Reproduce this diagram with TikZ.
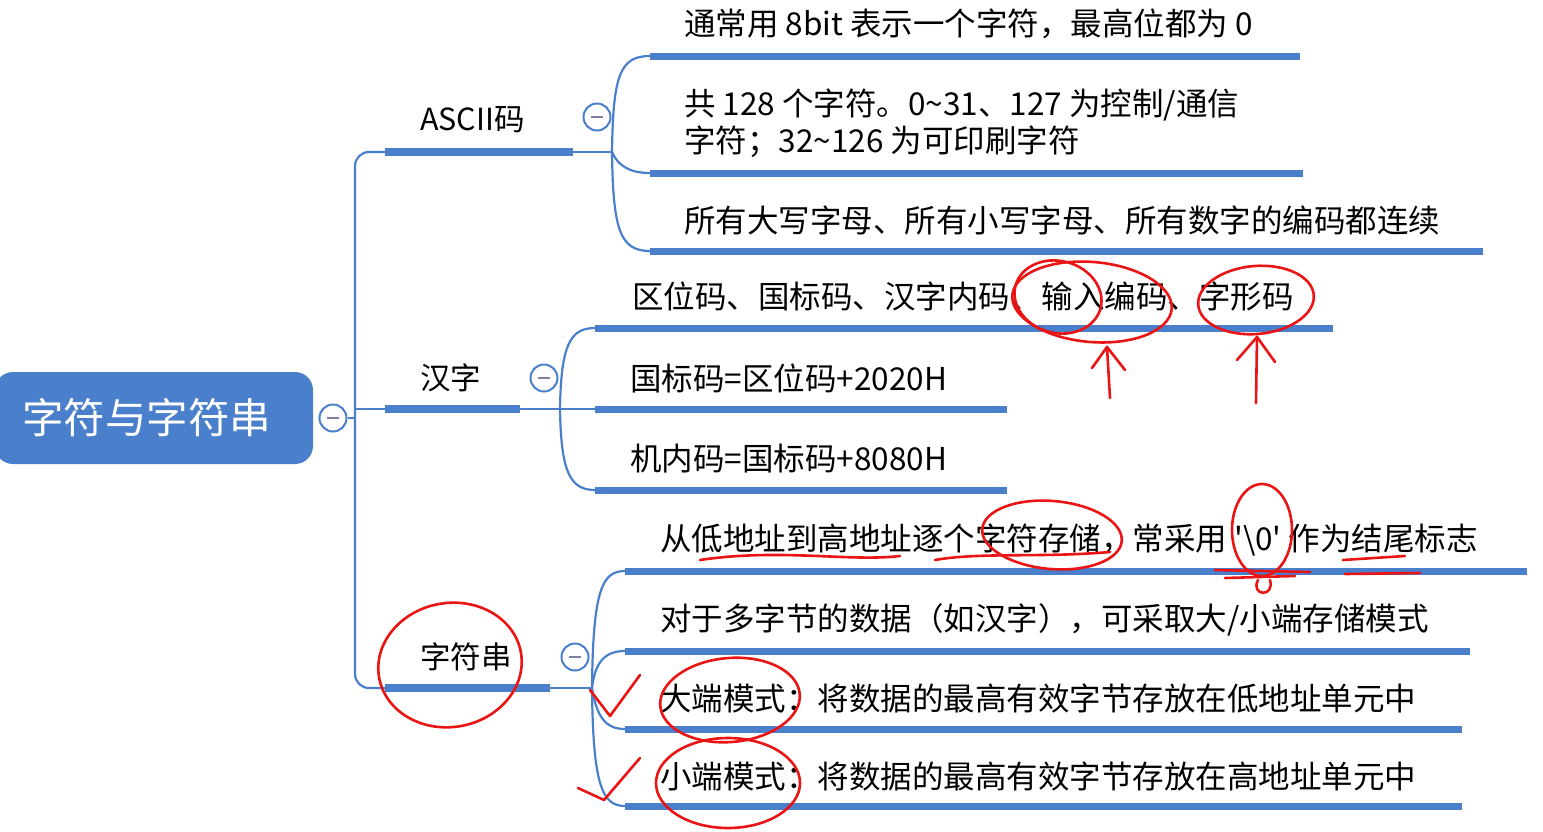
\documentclass[tikz,border=0pt]{standalone}
\usepackage{fontspec}
\newfontfamily\cjk{Noto Sans CJK SC}
\definecolor{mblue}{RGB}{74,127,203}
\definecolor{mgray}{RGB}{125,125,165}
\definecolor{hred}{RGB}{235,20,20}
\tikzset{
 bar/.style={draw=mblue,line width=7pt},
 mbar/.style={draw=mblue,line width=8pt},
 link/.style={draw=mblue,line width=2.2pt},
 txt/.style={anchor=west,inner sep=0pt,font=\cjk\fontsize{31.5}{39}\selectfont},
 lbl/.style={anchor=west,inner sep=0pt,font=\cjk\fontsize{30.5}{36}\selectfont},
 root/.style={fill=mblue,rounded corners=18pt,minimum width=318pt,minimum height=92pt,text=white,font=\cjk\fontsize{41.5}{46}\selectfont},
 fold/.style={circle,draw=mblue,fill=white,line width=2pt,minimum size=27pt,inner sep=0pt,
   path picture={\draw[mgray,line width=2.5pt] (path picture bounding box.center) ++(-6pt,0) -- ++(12pt,0);}},
 ink/.style={draw=hred,line width=2.6pt,line cap=round,line join=round},
}
\begin{document}
\begin{tikzpicture}[x=1pt,y=-1pt]
\useasboundingbox (0,0) rectangle (1543,831);
% root
\node[root] (root) at (154,418) {\hspace{-14pt}字符与字符串};
\node[fold] (f0) at (333,418) {};
% trunk coordinates
\coordinate (j0) at (355,418);
\coordinate (jb) at (355,409);
\coordinate (jc) at (355,688);
\coordinate (b1s) at (385,152); \coordinate (b1e) at (573,152);
\coordinate (b2s) at (385,409); \coordinate (b2e) at (520,409);
\coordinate (b3s) at (385,688); \coordinate (b3e) at (550,688);
\draw[link] (f0.east) -- (j0);
\draw[link,rounded corners=14pt] (b1s) -| (jc) -- (b3s);
\draw[link] (jb) -- (b2s);
\draw[mbar] (b1s) -- (b1e);
\draw[mbar] (b2s) -- (b2e);
\draw[mbar] (b3s) -- (b3e);
\node[lbl] (l1) at (420,120) {ASCII码};
\node[lbl] (l2) at (420,378) {汉字};
\node[lbl] (l3) at (420,657) {字符串};
\node[fold] (f1) at (597,117) {};
\node[fold] (f2) at (544,378) {};
\node[fold] (f3) at (575,657) {};
% ASCII children
\coordinate (k1) at (612,152);
\coordinate (c11) at (650,56);  \coordinate (c11e) at (1300,56);
\coordinate (c12) at (650,173); \coordinate (c12e) at (1303,173);
\coordinate (c13) at (650,251); \coordinate (c13e) at (1483,251);
\draw[link] (b1e) -- (k1);
\draw[link] (k1) .. controls (613,75) and (620,56) .. (c11);
\draw[link] (k1) .. controls (618,166) and (630,173) .. (c12);
\draw[link] (k1) .. controls (613,230) and (620,251) .. (c13);
\draw[bar] (c11) -- (c11e);
\draw[bar] (c12) -- (c12e);
\draw[bar] (c13) -- (c13e);
\node[txt] (t11) at (684,24) {通常用 8bit 表示一个字符，最高位都为 0};
\node[txt] (t12a) at (684,105) {共 128 个字符。0\textasciitilde31、127 为控制/通信};
\node[txt] (t12b) at (684,142) {字符；32\textasciitilde126 为可印刷字符};
\node[txt] (t13) at (684,220) {所有大写字母、所有小写字母、所有数字的编码都连续};
% Hanzi children
\coordinate (k2) at (560,409);
\coordinate (c21) at (595,328); \coordinate (c21e) at (1333,328);
\coordinate (c22) at (595,409); \coordinate (c22e) at (1007,409);
\coordinate (c23) at (595,490); \coordinate (c23e) at (1007,490);
\draw[link] (b2e) -- (k2);
\draw[link] (k2) .. controls (561,345) and (570,328) .. (c21);
\draw[link] (k2) -- (c22);
\draw[link] (k2) .. controls (561,472) and (570,490) .. (c23);
\draw[bar] (c21) -- (c21e);
\draw[bar] (c22) -- (c22e);
\draw[bar] (c23) -- (c23e);
\node[txt] (t21) at (632,297) {区位码、国标码、汉字内码、输入编码、字形码};
\node[txt] (t22) at (630,378) {国标码=区位码+2020H};
\node[txt] (t23) at (630,459) {机内码=国标码+8080H};
% string children
\coordinate (k3) at (592,688);
\coordinate (c31) at (625,571); \coordinate (c31e) at (1527,571);
\coordinate (c32) at (625,651); \coordinate (c32e) at (1470,651);
\coordinate (c33) at (625,729); \coordinate (c33e) at (1462,729);
\coordinate (c34) at (625,806); \coordinate (c34e) at (1462,806);
\draw[link] (b3e) -- (k3);
\draw[link] (k3) .. controls (593,590) and (602,571) .. (c31);
\draw[link] (k3) .. controls (595,662) and (605,651) .. (c32);
\draw[link] (k3) .. controls (597,718) and (606,729) .. (c33);
\draw[link] (k3) .. controls (593,785) and (602,806) .. (c34);
\draw[bar] (c31) -- (c31e);
\draw[bar] (c32) -- (c32e);
\draw[bar] (c33) -- (c33e);
\draw[bar] (c34) -- (c34e);
\node[txt] (t31) at (660,540) {从低地址到高地址逐个字符存储，常采用 '\textbackslash0' 作为结尾标志};
\node[txt] (t32) at (660,620) {对于多字节的数据（如汉字），可采取大/小端存储模式};
\node[txt] (t33) at (660,698) {大端模式：将数据的最高有效字节存放在低地址单元中};
\node[txt] (t34) at (660,776) {小端模式：将数据的最高有效字节存放在高地址单元中};
% red handwriting
\draw[ink,rotate around={-15:(1058,297)}] (1058,297) ellipse (44 and 36);
\draw[ink,rotate around={-5:(1092,302)}] (1092,302) ellipse (80 and 40);
\draw[ink] (1110,398) -- (1107,347);
\draw[ink] (1092,368) -- (1107,347) -- (1125,370);
\draw[ink,rotate around={5:(1256,300)}] (1256,300) ellipse (58 and 34);
\draw[ink] (1256,403) -- (1257,337);
\draw[ink] (1237,360) -- (1257,337) -- (1275,362);
\draw[ink,rotate around={-5:(1052,535)}] (1052,535) ellipse (70 and 34);
\draw[ink] (1262,530) ellipse (30 and 46);
\draw[ink] (700,560) .. controls (780,548) and (850,562) .. (900,556);
\draw[ink] (935,560) .. controls (980,552) and (1040,558) .. (1110,552);
\draw[ink] (1215,570) -- (1310,572);
\draw[ink] (1225,578) -- (1295,576);
\draw[ink] (1258,580) .. controls (1250,596) and (1275,598) .. (1270,580);
\draw[ink] (1343,560) -- (1405,556);
\draw[ink] (1345,574) -- (1420,573);
\draw[ink,rotate around={10:(450,665)}] (450,665) ellipse (72 and 62);
\draw[ink,rotate around={5:(730,700)}] (730,700) ellipse (70 and 42);
\draw[ink] (728,783) ellipse (72 and 45);
\draw[ink] (590,690) -- (610,716) -- (640,675);
\draw[ink] (578,788) -- (604,800) -- (640,758);
\end{tikzpicture}
\end{document}
